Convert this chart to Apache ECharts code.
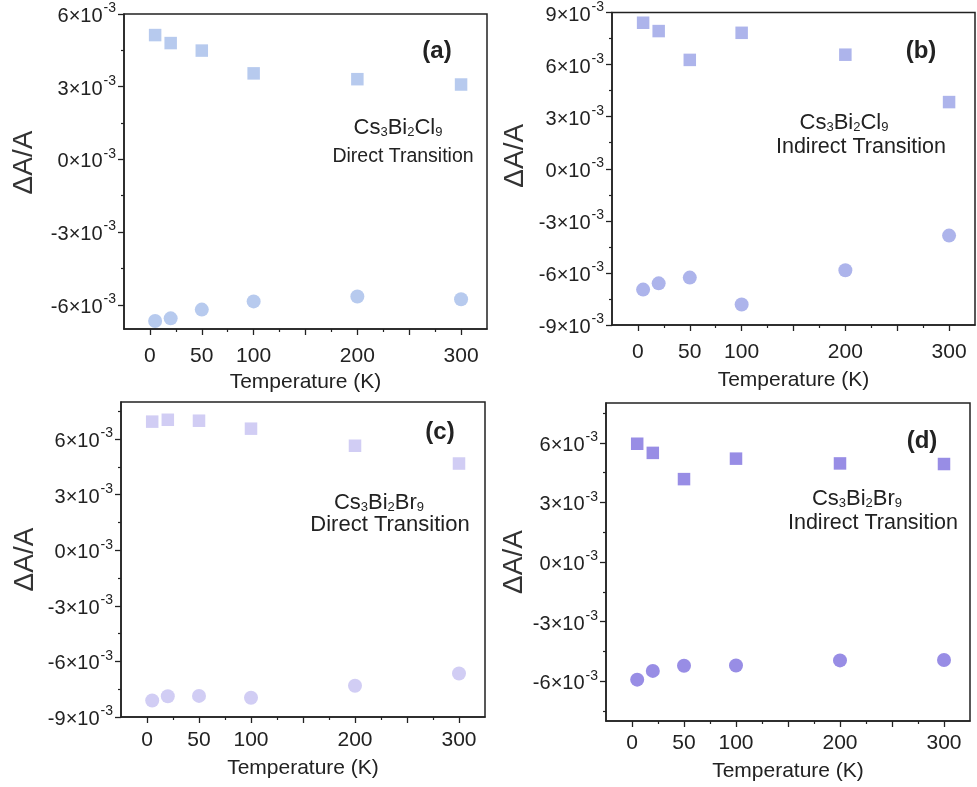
<!DOCTYPE html>
<html>
<head>
<meta charset="utf-8"/>
<title>ΔA/A vs Temperature</title>
<script src="https://cdn.jsdelivr.net/npm/echarts@6/dist/echarts.min.js"></script>
<style>
  html, body { margin: 0; padding: 0; background: #fff; }
  #main { width: 977px; height: 787px; }
</style>
</head>
<body>
<div id="main"></div>
<script type="text/javascript">
// temperatures (K)
var temps = [5, 20, 50, 100, 200, 300];

// (a) Cs3Bi2Cl9 direct
var aSquares = [5.13e-3, 4.80e-3, 4.49e-3, 3.55e-3, 3.31e-3, 3.09e-3];
var aCircles = [-6.67e-3, -6.56e-3, -6.20e-3, -5.86e-3, -5.66e-3, -5.77e-3];
// (b) Cs3Bi2Cl9 indirect
var bSquares = [8.41e-3, 7.93e-3, 6.27e-3, 7.83e-3, 6.57e-3, 3.84e-3];
var bCircles = [-6.96e-3, -6.60e-3, -6.27e-3, -7.82e-3, -5.85e-3, -3.85e-3];
// (c) Cs3Bi2Br9 direct
var cSquares = [6.94e-3, 7.04e-3, 6.99e-3, 6.56e-3, 5.64e-3, 4.68e-3];
var cCircles = [-8.11e-3, -7.88e-3, -7.86e-3, -7.96e-3, -7.31e-3, -6.65e-3];
// (d) Cs3Bi2Br9 indirect
var dSquares = [5.95e-3, 5.49e-3, 4.17e-3, 5.20e-3, 4.96e-3, 4.93e-3];
var dCircles = [-5.92e-3, -5.48e-3, -5.22e-3, -5.21e-3, -4.95e-3, -4.93e-3];

// tick values
var xMajor = [0, 50, 100, 150, 200, 250, 300];
var xMinor = [25, 75, 125, 175, 225, 275];
var xLabels = [0, 50, 100, 200, 300];
var yMajorA = [-6e-3, -3e-3, 0, 3e-3, 6e-3];
var yMajorB = [-9e-3, -6e-3, -3e-3, 0, 3e-3, 6e-3, 9e-3];
var yMajorC = [-9e-3, -6e-3, -3e-3, 0, 3e-3, 6e-3];
var yMajorD = [-6e-3, -3e-3, 0, 3e-3, 6e-3];
var yMinorA = [-4.5e-3, -1.5e-3, 1.5e-3, 4.5e-3];
var yMinorAll = [-7.5e-3, -4.5e-3, -1.5e-3, 1.5e-3, 4.5e-3, 7.5e-3];

var FONT = "'Liberation Sans', Arial, sans-serif";
var INK = '#222';

var panels = [
    {grid: {left: 124, top: 14, width: 363, height: 315}, y: [-7e-3, 6e-3], major: yMajorA, minor: yMinorA,
     sq: aSquares, ci: aCircles, color: '#a5bdea', nameGap: 86, namePad: 18, xMargin: 17, xGap: 43},
    {grid: {left: 612, top: 11, width: 363, height: 314}, y: [-9e-3, 9e-3], major: yMajorB, minor: yMinorAll,
     sq: bSquares, ci: bCircles, color: '#98a1e6', nameGap: 83, namePad: 26, xMargin: 17, xGap: 45},
    {grid: {left: 121, top: 402, width: 364, height: 315}, y: [-9e-3, 8e-3], major: yMajorC, minor: yMinorAll,
     sq: cSquares, ci: cCircles, color: '#c6c1f1', nameGap: 82, namePad: 0, xMargin: 13, xGap: 41},
    {grid: {left: 606, top: 403, width: 364, height: 318}, y: [-8e-3, 8e-3], major: yMajorD, minor: yMinorAll,
     sq: dSquares, ci: dCircles, color: '#7e70de', nameGap: 78, namePad: 0, xMargin: 12, xGap: 40}
];

var grids = [], xAxes = [], yAxes = [], series = [];

panels.forEach(function (p, i) {
    grids.push(Object.assign({show: true, borderColor: INK, borderWidth: 1.5}, p.grid));

    // main x axis
    xAxes.push({
        type: 'value', gridIndex: i, min: -25, max: 325,
        name: 'Temperature (K)', nameLocation: 'middle', nameGap: p.xGap,
        nameTextStyle: {fontFamily: FONT, fontSize: 21, color: INK},
        axisLine: {show: true, onZero: false, lineStyle: {color: INK, width: 1.5}},
        axisTick: {show: true, inside: false, length: 6, customValues: xMajor, lineStyle: {color: INK, width: 1.3}},
        axisLabel: {customValues: xLabels, margin: p.xMargin, fontFamily: FONT, fontSize: 21, color: INK},
        splitLine: {show: false}
    });
    // minor x ticks
    xAxes.push({
        type: 'value', gridIndex: i, min: -25, max: 325, position: 'bottom',
        axisLine: {show: false, onZero: false},
        axisTick: {show: true, length: 3, customValues: xMinor, lineStyle: {color: INK, width: 1.2}},
        axisLabel: {show: false},
        splitLine: {show: false}
    });

    // main y axis
    yAxes.push({
        type: 'value', gridIndex: i, min: p.y[0], max: p.y[1],
        name: 'ΔA/A', nameLocation: 'middle', nameGap: p.nameGap,
        nameTextStyle: {fontFamily: FONT, fontSize: 28, color: '#333', padding: [0, 0, 0, p.namePad]},
        axisLine: {show: true, onZero: false, lineStyle: {color: INK, width: 1.5}},
        axisTick: {show: true, length: 6, customValues: p.major, lineStyle: {color: INK, width: 1.3}},
        axisLabel: {
            customValues: p.major, margin: 8,
            fontFamily: FONT, fontSize: 20, color: INK,
            formatter: function (v) { return '{n|' + Math.round(v * 1000) + '×10}{s|-3}'; },
            rich: {
                n: {fontFamily: FONT, fontSize: 20, color: INK, lineHeight: 25, verticalAlign: 'bottom'},
                s: {fontFamily: FONT, fontSize: 14, color: INK, lineHeight: 15, verticalAlign: 'top', padding: [0, 0, 0, 1]}
            }
        },
        splitLine: {show: false}
    });
    // minor y ticks
    yAxes.push({
        type: 'value', gridIndex: i, min: p.y[0], max: p.y[1], position: 'left',
        axisLine: {show: false, onZero: false},
        axisTick: {show: true, length: 3, customValues: p.minor, lineStyle: {color: INK, width: 1.2}},
        axisLabel: {show: false},
        splitLine: {show: false}
    });

    series.push({
        type: 'scatter', xAxisIndex: i * 2, yAxisIndex: i * 2,
        symbol: 'rect', symbolSize: 12.5,
        itemStyle: {color: p.color},
        data: temps.map(function (t, k) { return [t, p.sq[k]]; })
    });
    series.push({
        type: 'scatter', xAxisIndex: i * 2, yAxisIndex: i * 2,
        symbol: 'circle', symbolSize: 14,
        itemStyle: {color: p.color},
        data: temps.map(function (t, k) { return [t, p.ci[k]]; })
    });
});

var richSub = {
    b: {fontFamily: FONT, fontSize: 22, fill: INK, lineHeight: 26, verticalAlign: 'bottom'},
    sub: {fontFamily: FONT, fontSize: 13, fill: INK, lineHeight: 17, verticalAlign: 'bottom'}
};

function label(x, y, str, size, bold) {
    return {
        type: 'text', x: x, y: y, silent: true,
        style: {text: str, fontFamily: FONT, fontSize: size, fontWeight: bold ? 'bold' : 'normal',
                fill: INK, align: 'center', verticalAlign: 'middle'}
    };
}
function formula(x, y, str) {
    return {
        type: 'text', x: x, y: y, silent: true,
        style: {text: str, rich: richSub, fontFamily: FONT, fontSize: 22, fill: INK,
                align: 'center', verticalAlign: 'middle'}
    };
}

var graphics = [
    label(437, 51, '(a)', 24, true),
    formula(398, 126, '{b|Cs}{sub|3}{b|Bi}{sub|2}{b|Cl}{sub|9}'),
    label(403, 157, 'Direct Transition', 19.5),
    label(921, 51, '(b)', 24, true),
    formula(844, 121, '{b|Cs}{sub|3}{b|Bi}{sub|2}{b|Cl}{sub|9}'),
    label(861, 147, 'Indirect Transition', 21.5),
    label(440, 432, '(c)', 24, true),
    formula(379, 501, '{b|Cs}{sub|3}{b|Bi}{sub|2}{b|Br}{sub|9}'),
    label(390, 525, 'Direct Transition', 22),
    label(922, 441, '(d)', 24, true),
    formula(857, 497, '{b|Cs}{sub|3}{b|Bi}{sub|2}{b|Br}{sub|9}'),
    label(873, 523, 'Indirect Transition', 21.5)
];

var myChart = echarts.init(document.getElementById('main'));
myChart.setOption({
    backgroundColor: '#fff',
    animation: false,
    grid: grids,
    xAxis: xAxes,
    yAxis: yAxes,
    series: series,
    graphic: graphics
});
</script>
</body>
</html>
